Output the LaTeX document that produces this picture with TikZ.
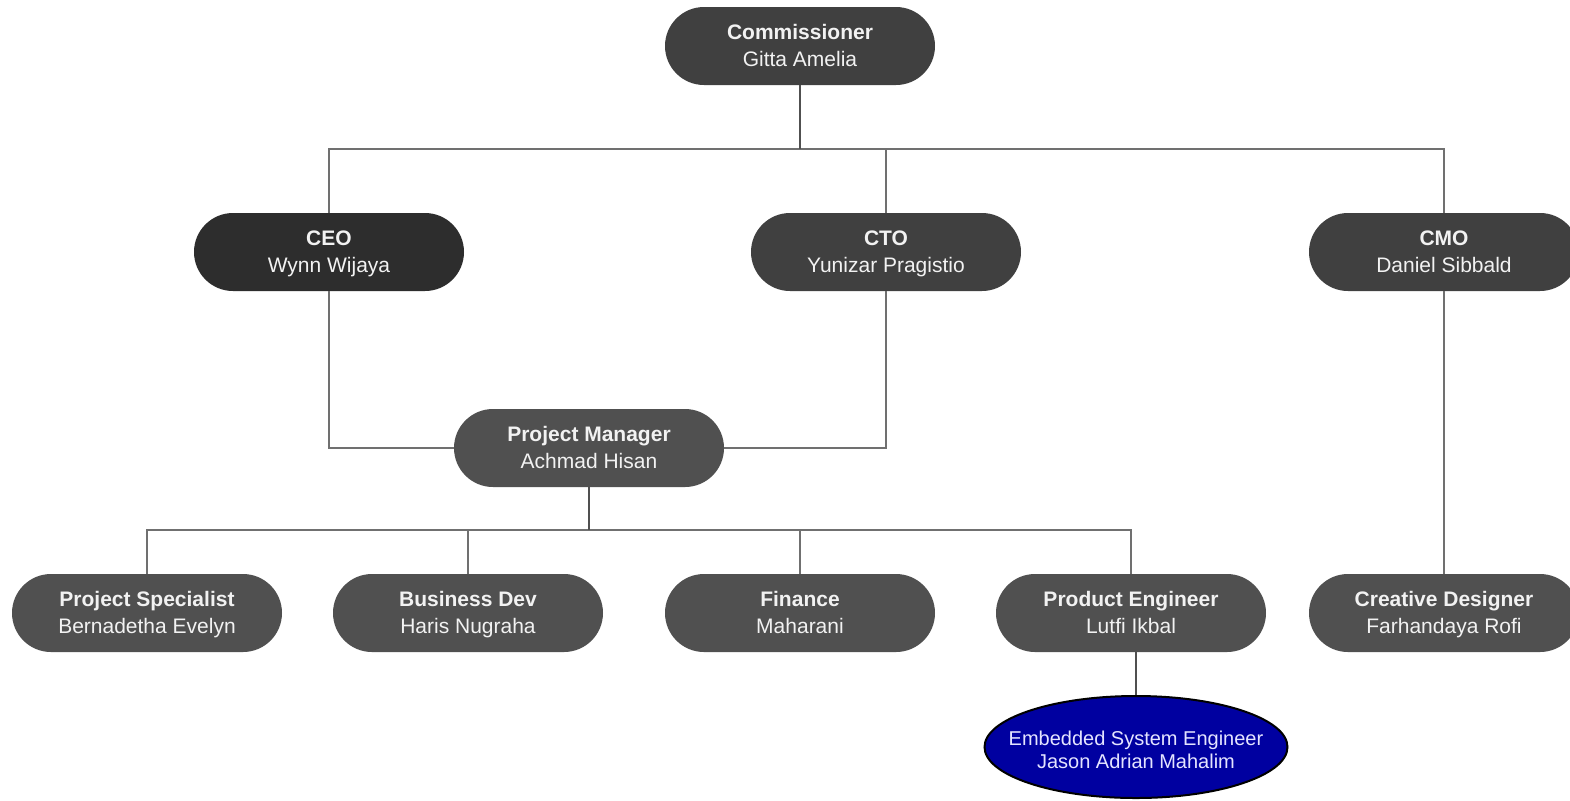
\documentclass[tikz,border=0pt]{standalone}
\usepackage{fontspec}
\setmainfont{Liberation Sans}
\usetikzlibrary{shapes.geometric}
\definecolor{boxA}{HTML}{404040}
\definecolor{boxB}{HTML}{2D2D2D}
\definecolor{boxC}{HTML}{505050}
\definecolor{txt}{HTML}{F2F2F2}
\definecolor{lnk}{HTML}{707070}
\definecolor{trunk}{HTML}{505050}
\definecolor{navyfill}{HTML}{0000A0}
\definecolor{lav}{HTML}{E4E4FF}
\newcommand{\twoline}[2]{\rule{0pt}{11.5pt}\textbf{#1}\strut\\#2\strut}
\tikzset{
  role/.style={rectangle, rounded corners=19.5pt, minimum width=135pt, minimum height=39pt,
    inner sep=0pt, text=txt, align=center, font=\fontsize{10.5}{13.5}\selectfont},
  roleA/.style={role, fill=boxA},
  roleB/.style={role, fill=boxB},
  roleC/.style={role, fill=boxC},
  link/.style={draw=lnk, line width=0.75pt},
  trunkline/.style={draw=trunk, line width=1pt},
  special/.style={ellipse, draw=black, line width=1pt, fill=navyfill, minimum width=151.5pt,
    minimum height=51pt, inner sep=0pt, text=lav, font=\fontsize{10}{11.5}\selectfont}
}
\begin{document}
\begin{tikzpicture}[x=0.5pt,y=-0.5pt]
\useasboundingbox[fill=white] (0,0) rectangle (1570,800);

\node[roleA] (comm) at (800,46) {\twoline{Commissioner}{Gitta Amelia}};
\node[roleB] (ceo) at (329,252) {\twoline{CEO}{Wynn Wijaya}};
\node[roleA] (cto) at (886,252) {\twoline{CTO}{Yunizar Pragistio}};
\node[roleA] (cmo) at (1444,252) {\twoline{CMO}{Daniel Sibbald}};
\node[roleC] (pm) at (589,448) {\twoline{Project Manager}{Achmad Hisan}};
\node[roleC] (ps) at (147,613) {\twoline{Project Specialist}{Bernadetha Evelyn}};
\node[roleC] (bd) at (468,613) {\twoline{Business Dev}{Haris Nugraha}};
\node[roleC] (fin) at (800,613) {\twoline{Finance}{Maharani}};
\node[roleC] (pe) at (1131,613) {\twoline{Product Engineer}{Lutfi Ikbal}};
\node[roleC] (cd) at (1444,613) {\twoline{Creative Designer}{Farhandaya Rofi}};
\node[special] (ese) at (1136,747) {\makebox[0pt]{\begin{tabular}{@{}c@{}}\rule{0pt}{13pt}Embedded System Engineer\\Jason Adrian Mahalim\end{tabular}}};

\coordinate (bus1) at (800,149);
\coordinate (bus2) at (589,530);

\draw[link] (bus1) -| (ceo.north);
\draw[link] (bus1) -| (cto.north);
\draw[link] (bus1) -| (cmo.north);
\draw[trunkline] (comm.south) -- (bus1);

\draw[link] (ceo.south) |- (pm.west);
\draw[link] (cto.south) |- (pm.east);
\draw[link] (cmo.south) -- (cd.north);

\draw[link] (bus2) -| (ps.north);
\draw[link] (bus2) -| (bd.north);
\draw[link] (bus2) -| (fin.north);
\draw[link] (bus2) -| (pe.north);
\draw[trunkline] (pm.south) -- (bus2);

\draw[trunkline] (pe.south -| ese.north) -- (ese.north);
\end{tikzpicture}
\end{document}
